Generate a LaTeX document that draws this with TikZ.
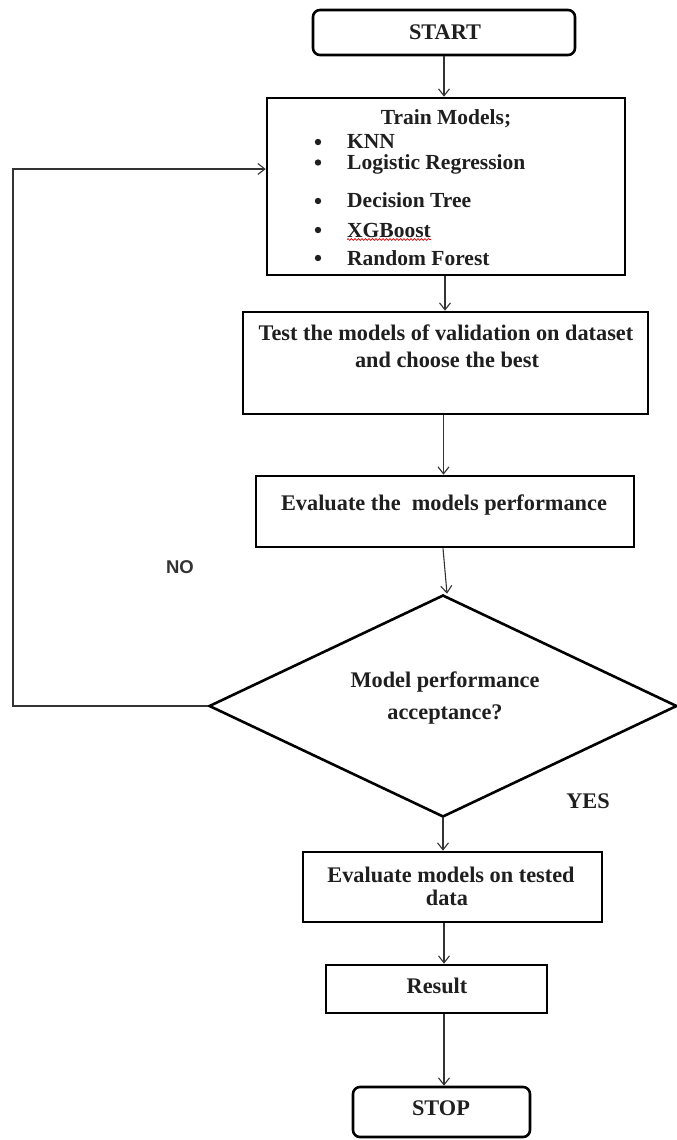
\documentclass[tikz,border=0pt]{standalone}
\usepackage{fontspec}
\setmainfont{Liberation Serif}
\newfontfamily\labelsans{Liberation Sans}
\usetikzlibrary{shapes.geometric,arrows.meta,decorations.pathmorphing,calc}
\begin{document}
\begin{tikzpicture}[x=1pt,y=-1pt,
  box/.style={draw=black, line width=2.6pt, inner sep=0pt, fill=white},
  rbox/.style={box, rounded corners=7pt},
  arr/.style={draw=black!80, line width=1.1pt, -{Straight Barb[length=7pt,width=11pt,line width=1.1pt]}},
  txt/.style={font=\fontsize{22.3}{24}\selectfont\bfseries, text=black!88, inner sep=0pt, anchor=base},
  item/.style={txt, font=\fontsize{21.5}{24}\selectfont\bfseries, anchor=base west},
  bul/.style={fill=black!88}]
\useasboundingbox (0,0) rectangle (677,1140);

% boxes
\node[rbox, minimum width=262pt, minimum height=45pt] (start) at (444,32.5) {};
\node[box, minimum width=358pt, minimum height=177pt] (train) at (446,186.5) {};
\node[box, minimum width=405pt, minimum height=102pt] (test) at (445.5,363) {};
\node[box, minimum width=378pt, minimum height=71pt] (evalp) at (445,511.5) {};
\node[box, diamond, minimum width=468pt, minimum height=222pt] (dia) at (443,706) {};
\node[box, minimum width=299pt, minimum height=70pt] (evalt) at (452.5,887) {};
\node[box, minimum width=221pt, minimum height=48pt] (result) at (436.5,989) {};
\node[rbox, minimum width=177pt, minimum height=50pt] (stop) at (441.5,1112) {};

% texts
\node[txt] (tstart) at (445,40) {START};
\node[txt, font=\fontsize{21.5}{24}\selectfont\bfseries] (ttrain) at (446,124.5) {Train Models;};
\node[item] (i1) at (347,148.5) {KNN};
\node[item] (i2) at (347,169.5) {Logistic Regression};
\node[item] (i3) at (347,207) {Decision Tree};
\node[item] (xg) at (347,237) {XGBoost};
\node[item] (i5) at (347,265) {Random Forest};
\foreach \yy in {142,162.5,201,230,258} \fill[bul] (318,\yy) circle (3.2pt);
\draw[red!85!black, line width=0.7pt, decorate, decoration={snake, amplitude=0.9pt, segment length=3.5pt}] ([yshift=-2.5pt]xg.base west) -- ([yshift=-2.5pt]xg.base east);

\node[txt] (ttest1) at (446,340) {Test the models of validation on dataset};
\node[txt] (ttest2) at (447,367) {and choose the best};
\node[txt] (tevalp) at (444,510) {Evaluate the~ models performance};
\node[txt] (tdia1) at (445,687) {Model performance};
\node[txt] (tdia2) at (445,719) {acceptance?};
\node[txt] (tevalt1) at (451,882) {Evaluate models on tested};
\node[txt] (tevalt2) at (447,905) {data};
\node[txt] (tresult) at (437,993) {Result};
\node[txt] (tstop) at (441,1115) {STOP};
\node[txt] (yes) at (588,808) {YES};
\node[txt, font=\fontsize{18.5}{22}\selectfont\labelsans\bfseries, text=black!80] (no) at (180,573) {NO};

% connectors
\draw[arr] (start.south) -- (start.south |- train.north);
\draw[arr] ([xshift=-1pt]train.south) -- ([xshift=-1pt]train.south |- test.north);
\draw[arr] ([xshift=-2pt]test.south) -- ([xshift=-2pt]test.south |- evalp.north);
\draw[arr] ([xshift=-2pt]evalp.south) -- ([xshift=4pt]dia.north);
\draw[arr] (dia.south) -- (dia.south |- evalt.north);
\draw[arr] ([xshift=-8.5pt]evalt.south) -- ([xshift=7.5pt]result.north);
\draw[arr] ([xshift=7.5pt]result.south) -- ([xshift=2.5pt]stop.north);
\coordinate (lc) at (13,706);
\draw[arr] (dia.west) -- (lc) |- ([yshift=17.5pt]train.west);
\end{tikzpicture}
\end{document}
